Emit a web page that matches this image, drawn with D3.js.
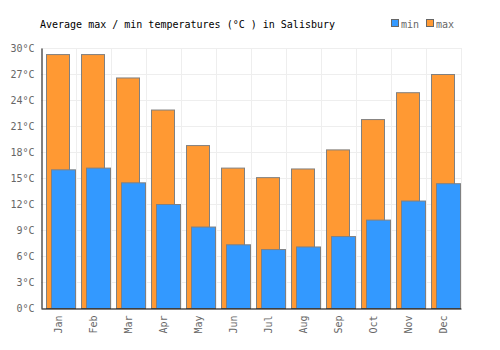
<!DOCTYPE html>
<html>
<head>
<meta charset="utf-8">
<script src="https://cdn.jsdelivr.net/npm/d3@7"></script>
<style>
body{margin:0;background:#fff;}
text{font-family:"DejaVu Sans Mono",monospace;}
</style>
</head>
<body>
<div id="chart"></div>
<script>
var months=["Jan","Feb","Mar","Apr","May","Jun","Jul","Aug","Sep","Oct","Nov","Dec"];
var maxTemp=[29.3,29.3,26.6,22.9,18.8,16.2,15.1,16.1,18.3,21.8,24.9,27.0];
var minTemp=[16.0,16.2,14.5,12.0,9.4,7.35,6.8,7.1,8.3,10.2,12.4,14.4];
var yTicks=[0,3,6,9,12,15,18,21,24,27,30];

var width=500, height=350;
var leftOffset=41, rightEdge=461, topOffset=48, botEdge=308; // plot area
var fs="10px";

var svg=d3.select("#chart").append("svg").attr("width",width).attr("height",height);

var x=d3.scaleBand().domain(months).range([leftOffset,rightEdge]);
var y=d3.scaleLinear().domain([0,30]).range([botEdge,topOffset]);

// grid
var grid=svg.append("g");
grid.selectAll("line.h").data(yTicks).enter().append("line")
	.attr("x1",leftOffset).attr("x2",rightEdge)
	.attr("y1",function(d){return y(d)+0.5;}).attr("y2",function(d){return y(d)+0.5;})
	.attr("stroke","#eeeeee");
grid.selectAll("line.v").data(months).enter().append("line")
	.attr("x1",function(d){return x(d)+x.bandwidth()+0.5;})
	.attr("x2",function(d){return x(d)+x.bandwidth()+0.5;})
	.attr("y1",topOffset).attr("y2",botEdge)
	.attr("stroke","#eeeeee");

// max bars behind, min bars in front
svg.append("g").selectAll("rect").data(maxTemp).enter().append("rect")
	.attr("x",function(d,i){return x(months[i])+5.5;})
	.attr("width",23)
	.attr("y",function(d){return y(d)+0.5;})
	.attr("height",function(d){return botEdge-y(d);})
	.attr("fill","#ff9933").attr("stroke","#808080");
svg.append("g").selectAll("rect").data(minTemp).enter().append("rect")
	.attr("x",function(d,i){return x(months[i])+10.5;})
	.attr("width",24)
	.attr("y",function(d){return y(d)+0.5;})
	.attr("height",function(d){return botEdge-y(d);})
	.attr("fill","#3399ff").attr("stroke","#808080");

// axes
var yAxis=svg.append("g").attr("transform","translate("+(leftOffset+0.5)+",0)")
	.call(d3.axisLeft(y).tickValues(yTicks).tickSize(0).tickPadding(7).tickFormat(function(d){return d+"°C";}));
yAxis.select(".domain").attr("stroke","#000");
yAxis.selectAll("text").attr("fill","#666").style("font-size",fs).attr("font-family","DejaVu Sans Mono");

var xAxis=svg.append("g").attr("transform","translate(0,"+(botEdge+0.5)+")")
	.call(d3.axisBottom(x).tickSize(0).tickPadding(0));
xAxis.select(".domain").attr("stroke","#000");
xAxis.selectAll("text").attr("fill","#666").style("font-size",fs).attr("font-family","DejaVu Sans Mono")
	.attr("text-anchor","end").attr("dy","0.35em")
	.attr("transform","translate(0,7) rotate(-90)").attr("x",0).attr("y",0);

// title
svg.append("text").attr("x",40).attr("y",28).text("Average max / min temperatures (°C ) in Salisbury")
	.style("font-size",fs).attr("fill","#000");

// legend
var legend=[{k:"min",c:"#3399ff",x:391},{k:"max",c:"#ff9933",x:426}];
var lg=svg.append("g").selectAll("g").data(legend).enter().append("g");
lg.append("rect").attr("x",function(d){return d.x+0.5;}).attr("y",19.5).attr("width",7).attr("height",7)
	.attr("fill",function(d){return d.c;}).attr("stroke","#666");
lg.append("text").attr("x",function(d){return d.x+10;}).attr("y",28).text(function(d){return d.k;})
	.style("font-size",fs).attr("fill","#666");
</script>
</body>
</html>
